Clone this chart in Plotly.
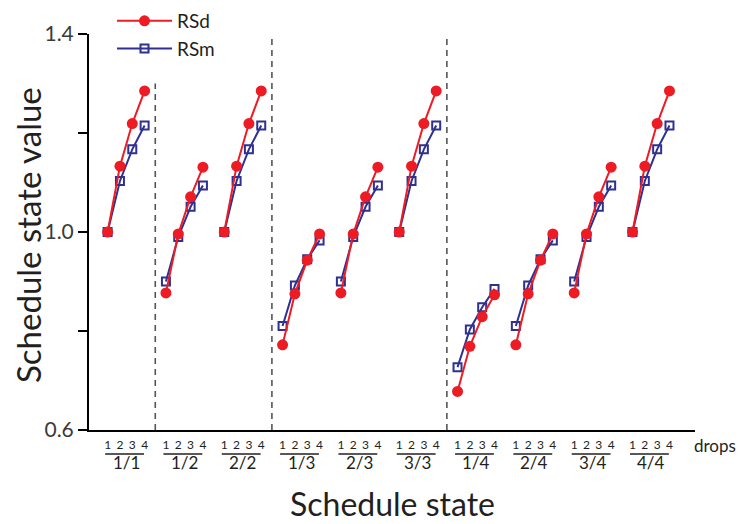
import plotly.graph_objects as go

# ---------------- data ----------------
groups = ["1/1", "1/2", "2/2", "1/3", "2/3", "3/3", "1/4", "2/4", "3/4", "4/4"]
drops = ["1", "2", "3", "4"]

rsd_values = [
    [1.000, 1.133, 1.219, 1.285],  # 1/1
    [0.877, 0.996, 1.071, 1.131],  # 1/2
    [1.000, 1.133, 1.219, 1.285],  # 2/2
    [0.772, 0.875, 0.943, 0.996],  # 1/3
    [0.877, 0.996, 1.071, 1.131],  # 2/3
    [1.000, 1.133, 1.219, 1.285],  # 3/3
    [0.678, 0.769, 0.829, 0.873],  # 1/4
    [0.772, 0.875, 0.943, 0.996],  # 2/4
    [0.877, 0.996, 1.071, 1.131],  # 3/4
    [1.000, 1.133, 1.219, 1.285],  # 4/4
]
rsm_values = [
    [1.000, 1.103, 1.167, 1.215],
    [0.900, 0.990, 1.051, 1.094],
    [1.000, 1.103, 1.167, 1.215],
    [0.810, 0.892, 0.945, 0.983],
    [0.900, 0.990, 1.051, 1.094],
    [1.000, 1.103, 1.167, 1.215],
    [0.727, 0.803, 0.848, 0.885],
    [0.810, 0.892, 0.945, 0.983],
    [0.900, 0.990, 1.051, 1.094],
    [1.000, 1.103, 1.167, 1.215],
]
y_ticks = [0.6, 0.8, 1.0, 1.2, 1.4]
y_ticktext = ["0.6", "", "1.0", "", "1.4"]
divider_after = [0, 2, 5]  # dashed separators after these group indices

# ---------------- layout constants ----------------
GROUP_STEP = 4.73
RED = "#ED1C24"
BLUE = "#2E3192"
TXT = "#231F20"
FONT = "Lato"
OFF = 8  # page body margin
W, H = 744 - OFF, 524 - OFF
ML, MR, MT, MB = 89 - OFF, 49, 34 - OFF, 94
PLOT_H = H - MT - MB
PLOT_W = W - ML - MR


def xpos(g, d):
    return g * GROUP_STEP + d


def series(values):
    xs, ys = [], []
    for g, vals in enumerate(values):
        for d, v in enumerate(vals):
            xs.append(xpos(g, d))
            ys.append(v)
        xs.append(None)
        ys.append(None)
    return xs, ys


fig = go.Figure()

xm, ym = series(rsm_values)
fig.add_trace(go.Scatter(
    x=xm, y=ym, mode="lines+markers", name="RSm", legendrank=2,
    line=dict(color=BLUE, width=2),
    marker=dict(symbol="square-open", size=8, color=BLUE, line=dict(width=2, color=BLUE)),
    connectgaps=False,
))
xd, yd = series(rsd_values)
fig.add_trace(go.Scatter(
    x=xd, y=yd, mode="lines+markers", name="RSd", legendrank=1,
    line=dict(color=RED, width=2),
    marker=dict(symbol="circle", size=11, color=RED),
    connectgaps=False,
))

tickvals = [xpos(g, d) for g in range(len(groups)) for d in range(len(drops))]
ticktext = [drops[d] for g in range(len(groups)) for d in range(len(drops))]

shapes = []
for i, g in enumerate(divider_after):
    xm_ = g * GROUP_STEP + (len(drops) - 1 + GROUP_STEP) / 2
    shapes.append(dict(type="line", xref="x", yref="y", x0=xm_, x1=xm_,
                       y0=0.6, y1=1.30 if i == 0 else 1.4, layer="below",
                       line=dict(color="#555555", width=1.6, dash="6px,5px")))
for g in range(len(groups)):
    shapes.append(dict(type="line", xref="x", yref="paper",
                       x0=xpos(g, 0) - 0.2, x1=xpos(g, 3) - 0.05,
                       y0=-24 / PLOT_H, y1=-24 / PLOT_H,
                       line=dict(color=TXT, width=1.3)))

annotations = []
for g, name in enumerate(groups):
    annotations.append(dict(x=xpos(g, 1.5), xref="x", y=0, yref="paper", yshift=-32,
                            text=name, showarrow=False, yanchor="middle",
                            font=dict(family=FONT, size=17, color=TXT)))
annotations.append(dict(x=1, xref="paper", xshift=20, y=0, yref="paper", yshift=-15,
                        text="drops", showarrow=False, xanchor="center", yanchor="middle",
                        font=dict(family=FONT, size=17, color=TXT)))
annotations.append(dict(x=0.5, xref="paper", y=0, yref="paper", yshift=-73,
                        text="Schedule state", showarrow=False, yanchor="middle",
                        font=dict(family=FONT, size=32, color=TXT)))
annotations.append(dict(x=0, xref="paper", xshift=-61, y=(430 - 235) / PLOT_H, yref="paper",
                        text="Schedule state value", showarrow=False, textangle=-90,
                        xanchor="center", yanchor="middle",
                        font=dict(family=FONT, size=33, color=TXT)))

fig.update_layout(
    width=W, height=H,
    margin=dict(l=ML, r=MR, t=MT, b=MB, autoexpand=False),
    paper_bgcolor="white", plot_bgcolor="white",
    font=dict(family=FONT, color=TXT),
    shapes=shapes, annotations=annotations,
    showlegend=True,
    legend=dict(x=(112 - OFF - ML) / PLOT_W, xanchor="left", y=1 + (MT + 6) / PLOT_H,
                yanchor="top", font=dict(family=FONT, size=19, color=TXT),
                itemwidth=55, tracegroupgap=0, bgcolor="rgba(0,0,0,0)"),
    xaxis=dict(range=[-1.51, 47.64], showgrid=False, zeroline=False,
               showline=True, linecolor="black", linewidth=2,
               tickvals=tickvals, ticktext=ticktext, ticks="", ticklabelstandoff=3,
               tickfont=dict(family=FONT, size=12, color=TXT)),
    yaxis=dict(range=[0.6, 1.4], showgrid=False, zeroline=False,
               showline=True, linecolor="black", linewidth=2,
               tickvals=y_ticks, ticktext=y_ticktext, ticks="outside",
               ticklen=9, tickwidth=1.5, tickcolor="black",
               tickfont=dict(family=FONT, size=21, color="#3a3a3a")),
)

fig.write_html("out.html")
